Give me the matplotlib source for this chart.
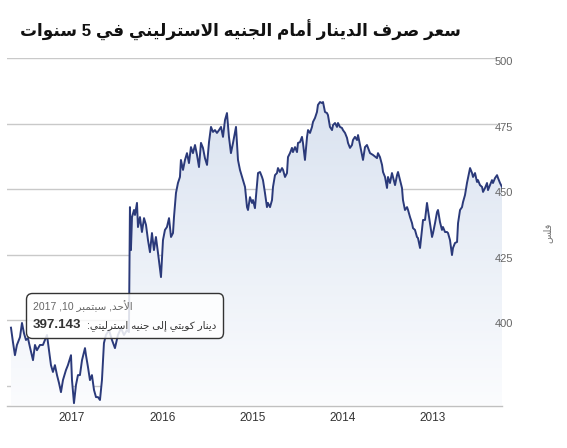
import re

import matplotlib
matplotlib.use("Agg")
import matplotlib.pyplot as plt
import numpy as np
from matplotlib.colors import LinearSegmentedColormap
from matplotlib.offsetbox import AnnotationBbox, HPacker, TextArea, VPacker
from matplotlib.transforms import ScaledTranslation

plt.rcParams["font.family"] = ["Liberation Sans", "DejaVu Sans"]

# KWD -> GBP (fils), newest on the left
years = [
    2017.676, 2017.654, 2017.632, 2017.610, 2017.576, 2017.554, 2017.532, 2017.510, 2017.488, 2017.466,
    2017.432, 2017.410, 2017.388, 2017.355, 2017.322, 2017.277, 2017.255, 2017.233, 2017.211, 2017.189,
    2017.166, 2017.144, 2017.122, 2017.100, 2017.067, 2017.045, 2017.011, 2017.000, 2016.978, 2016.956,
    2016.934, 2016.912, 2016.889, 2016.856, 2016.845, 2016.823, 2016.801, 2016.779, 2016.756, 2016.734,
    2016.712, 2016.690, 2016.668, 2016.646, 2016.624, 2016.590, 2016.557, 2016.524, 2016.491, 2016.457,
    2016.424, 2016.391, 2016.369, 2016.358, 2016.347, 2016.335, 2016.313, 2016.302, 2016.280, 2016.269,
    2016.247, 2016.225, 2016.202, 2016.180, 2016.158, 2016.136, 2016.114, 2016.092, 2016.070, 2016.047,
    2016.014, 2015.992, 2015.970, 2015.948, 2015.925, 2015.903, 2015.881, 2015.870, 2015.848, 2015.826,
    2015.804, 2015.793, 2015.770, 2015.748, 2015.726, 2015.704, 2015.682, 2015.660, 2015.637, 2015.615,
    2015.593, 2015.571, 2015.549, 2015.527, 2015.504, 2015.482, 2015.460, 2015.438, 2015.416, 2015.394,
    2015.371, 2015.349, 2015.327, 2015.305, 2015.283, 2015.261, 2015.239, 2015.216, 2015.183, 2015.161,
    2015.139, 2015.106, 2015.083, 2015.061, 2015.050, 2015.028, 2015.006, 2014.995, 2014.973, 2014.939,
    2014.917, 2014.895, 2014.884, 2014.862, 2014.840, 2014.829, 2014.806, 2014.784, 2014.773, 2014.751,
    2014.729, 2014.718, 2014.696, 2014.673, 2014.662, 2014.640, 2014.618, 2014.607, 2014.585, 2014.563,
    2014.552, 2014.529, 2014.507, 2014.496, 2014.474, 2014.452, 2014.441, 2014.419, 2014.396, 2014.385,
    2014.363, 2014.341, 2014.330, 2014.308, 2014.286, 2014.275, 2014.252, 2014.230, 2014.219, 2014.197,
    2014.175, 2014.164, 2014.142, 2014.119, 2014.108, 2014.086, 2014.064, 2014.053, 2014.031, 2014.009,
    2013.998, 2013.975, 2013.953, 2013.942, 2013.920, 2013.898, 2013.887, 2013.865, 2013.842, 2013.831,
    2013.809, 2013.776, 2013.754, 2013.732, 2013.698, 2013.665, 2013.621, 2013.610, 2013.588, 2013.565,
    2013.554, 2013.532, 2013.510, 2013.499, 2013.477, 2013.455, 2013.444, 2013.421, 2013.399, 2013.388,
    2013.366, 2013.344, 2013.333, 2013.311, 2013.288, 2013.277, 2013.255, 2013.233, 2013.222, 2013.200,
    2013.178, 2013.167, 2013.144, 2013.122, 2013.111, 2013.089, 2013.067, 2013.056, 2013.034, 2013.011,
    2013.000, 2012.978, 2012.956, 2012.945, 2012.923, 2012.901, 2012.890, 2012.867, 2012.845, 2012.834,
    2012.812, 2012.790, 2012.779, 2012.757, 2012.734, 2012.723, 2012.701, 2012.679, 2012.668, 2012.646,
    2012.624, 2012.613, 2012.590, 2012.568, 2012.557, 2012.535, 2012.513, 2012.502, 2012.480, 2012.457,
    2012.446, 2012.424, 2012.402, 2012.391, 2012.369, 2012.347, 2012.336, 2012.313, 2012.291, 2012.280,
    2012.258, 2012.236,
]
rates = [
    397.1, 391.6, 386.6, 390.5, 393.5, 398.9, 395.0, 392.4, 393.1, 389.7,
    384.7, 390.5, 388.5, 390.5, 390.5, 394.3, 388.5, 382.8, 380.2, 382.8,
    379.0, 376.0, 372.5, 377.1, 380.9, 382.8, 386.6, 377.1, 368.3, 375.2,
    379.0, 379.0, 384.7, 389.3, 386.6, 382.1, 377.1, 379.0, 373.3, 370.6,
    370.6, 369.5, 377.1, 391.2, 394.3, 396.2, 392.4, 389.3, 394.3, 396.9,
    394.3, 396.2, 395.4, 443.1, 426.7, 439.3, 442.0, 440.1, 444.7, 435.5,
    439.3, 433.6, 438.9, 436.3, 430.5, 425.9, 433.2, 426.7, 431.7, 425.6,
    416.4, 430.5, 434.4, 435.5, 438.9, 431.7, 433.2, 439.3, 448.5, 452.3,
    454.6, 461.1, 457.3, 461.1, 463.7, 459.9, 466.0, 463.7, 466.8, 463.0,
    458.4, 467.6, 465.7, 461.8, 459.2, 467.9, 473.7, 471.8, 472.5, 471.4,
    472.5, 473.7, 469.9, 476.3, 479.0, 469.9, 463.7, 467.6, 473.7, 461.1,
    457.3, 453.4, 450.8, 443.1, 442.0, 446.9, 444.7, 445.8, 442.7, 456.1,
    456.5, 454.6, 453.4, 448.5, 443.1, 444.7, 443.1, 445.8, 450.8, 455.3,
    456.1, 458.0, 456.5, 458.0, 457.3, 454.6, 456.1, 462.2, 463.7, 465.7,
    464.1, 466.0, 464.1, 467.6, 467.9, 469.9, 467.6, 461.1, 469.9, 472.5,
    471.4, 473.7, 475.6, 477.1, 479.4, 482.1, 483.2, 482.8, 483.2, 479.4,
    479.0, 478.2, 473.7, 472.5, 474.4, 475.2, 473.7, 475.2, 473.7, 473.3,
    472.5, 471.4, 469.5, 467.6, 465.7, 466.8, 468.7, 469.9, 468.7, 470.6,
    466.8, 461.1, 466.0, 466.8, 463.7, 463.0, 461.8, 463.7, 462.2, 459.2,
    456.5, 454.6, 450.4, 454.6, 452.3, 456.1, 454.6, 451.5, 455.3, 456.5,
    453.4, 450.4, 445.8, 442.0, 443.1, 442.0, 439.3, 437.0, 435.1, 434.4,
    431.7, 431.3, 427.5, 434.4, 438.2, 438.2, 444.7, 442.0, 437.0, 431.7,
    433.2, 437.0, 441.2, 442.0, 437.4, 434.4, 435.5, 433.6, 433.6, 433.2,
    430.5, 424.8, 427.5, 429.4, 429.8, 437.0, 442.0, 443.1, 445.0, 447.7,
    452.3, 454.2, 458.0, 456.1, 454.6, 456.1, 452.7, 453.4, 451.5, 450.8,
    448.9, 450.4, 452.3, 449.6, 451.5, 453.4, 452.3, 454.2, 455.3, 454.2,
    452.3, 450.8,
]
year_ticks = [2017, 2016, 2015, 2014, 2013]
rate_ticks = [400, 425, 450, 475, 500]
grid_levels = [375, 400, 425, 450, 475, 500]

title = "سعر صرف الدينار أمام الجنيه الاسترليني في 5 سنوات"
unit = "فلس"
tip_date = "الأحد, سبتمبر 10, 2017"
tip_label = "دينار كويتي إلى جنيه استرليني:"
tip_value = "397.143"

# minimal arabic shaping (presentation forms) + right-to-left order
AR = {"ء": (0xFE80, 1), "آ": (0xFE81, 2), "أ": (0xFE83, 2), "ؤ": (0xFE85, 2), "إ": (0xFE87, 2),
      "ئ": (0xFE89, 4), "ا": (0xFE8D, 2), "ب": (0xFE8F, 4), "ة": (0xFE93, 2), "ت": (0xFE95, 4),
      "ث": (0xFE99, 4), "ج": (0xFE9D, 4), "ح": (0xFEA1, 4), "خ": (0xFEA5, 4), "د": (0xFEA9, 2),
      "ذ": (0xFEAB, 2), "ر": (0xFEAD, 2), "ز": (0xFEAF, 2), "س": (0xFEB1, 4), "ش": (0xFEB5, 4),
      "ص": (0xFEB9, 4), "ض": (0xFEBD, 4), "ط": (0xFEC1, 4), "ظ": (0xFEC5, 4), "ع": (0xFEC9, 4),
      "غ": (0xFECD, 4), "ف": (0xFED1, 4), "ق": (0xFED5, 4), "ك": (0xFED9, 4), "ل": (0xFEDD, 4),
      "م": (0xFEE1, 4), "ن": (0xFEE5, 4), "ه": (0xFEE9, 4), "و": (0xFEED, 2), "ى": (0xFEEF, 2),
      "ي": (0xFEF1, 4)}
LAM_ALEF = {"آ": 0xFEF5, "أ": 0xFEF7, "إ": 0xFEF9, "ا": 0xFEFB}


def rtl(text):
    units = []
    i = 0
    while i < len(text):
        c = text[i]
        if c == "ل" and i + 1 < len(text) and text[i + 1] in LAM_ALEF:
            units.append((LAM_ALEF[text[i + 1]], 2))
            i += 2
        elif c in AR:
            units.append(AR[c])
            i += 1
        else:
            units.append(c)
            i += 1
    out = []
    for k, u in enumerate(units):
        if isinstance(u, str):
            out.append(u)
            continue
        base, n = u
        prev = k > 0 and not isinstance(units[k - 1], str) and units[k - 1][1] == 4
        nxt = n == 4 and k + 1 < len(units) and not isinstance(units[k + 1], str) and units[k + 1][1] >= 2
        if n == 1:
            form = 0
        elif prev and nxt:
            form = 3
        elif prev:
            form = 1
        elif nxt:
            form = 2
        else:
            form = 0
        out.append(chr(base + form))
    s = "".join(out)[::-1]
    return re.sub(r"[0-9.]+", lambda m: m.group(0)[::-1], s)


fig = plt.figure(figsize=(5.67, 4.48), dpi=100)
ax = fig.add_axes([7 / 567, 1 - 405.5 / 448, 495 / 567, 347.5 / 448])

x = np.array(years)
y = np.array(rates)
ymin = 367.4

for lv in grid_levels:
    ax.axhline(lv, xmax=0.987, color="#c9c9c9", lw=1, zorder=0)

poly = ax.fill_between(x, y, ymin, color="none", lw=0)
cmap = LinearSegmentedColormap.from_list("fade", ["#fbfcfe", "#d5dfee"])
grad = np.linspace(0, 1, 256).reshape(-1, 1)
im = ax.imshow(grad, extent=[x.min(), x.max(), ymin, 500], aspect="auto",
               cmap=cmap, origin="lower", zorder=1)
im.set_clip_path(poly.get_paths()[0], ax.transData)

ax.plot(x, y, color="#2b3a7a", lw=1.4, zorder=3)

ax.set_xlim(2017.72, 2012.236)
ax.set_ylim(ymin, 500)

ax.set_xticks(year_ticks)
ax.set_xticklabels([str(v) for v in year_ticks])
ax.tick_params(axis="x", length=0, pad=5, labelsize=8.5, labelcolor="#333333")

ax.yaxis.tick_right()
ax.set_yticks(rate_ticks)
ax.set_yticklabels([str(v) for v in rate_ticks])
ax.tick_params(axis="y", length=0, pad=-5, labelsize=8, labelcolor="#666666")
for lab in ax.get_yticklabels():
    lab.set_horizontalalignment("left")
    lab.set_transform(lab.get_transform() + ScaledTranslation(0, -0.03, fig.dpi_scale_trans))

for side in ["top", "left", "right"]:
    ax.spines[side].set_visible(False)
ax.spines["bottom"].set_color("#c0c0c0")
ax.spines["bottom"].set_linewidth(1)

fig.text(240 / 567, 1 - 30 / 448, rtl(title), ha="center", va="center",
         fontsize=12.2, fontweight="bold", color="#111111")
fig.text(547 / 567, 1 - 233 / 448, rtl(unit), ha="center", va="center",
         rotation=90, fontsize=7, color="#777777")

# tooltip
t1 = TextArea(rtl(tip_date), textprops=dict(color="#666666", fontsize=7.5))
tnum = TextArea(tip_value, textprops=dict(color="#333333", fontsize=9.5, fontweight="bold"))
tlab = TextArea(rtl(tip_label), textprops=dict(color="#333333", fontsize=7.5))
row = HPacker(children=[tnum, tlab], align="baseline", pad=0, sep=4)
box = VPacker(children=[t1, row], align="left", pad=0, sep=5)
ab = AnnotationBbox(box, (33, 448 - 300), xycoords="figure pixels", box_alignment=(0, 1),
                    frameon=True, pad=0.5, zorder=5,
                    bboxprops=dict(boxstyle="round,pad=0.5,rounding_size=0.4",
                                   fc=(1, 1, 1, 0.85), ec="#333333", lw=1))
ax.add_artist(ab)

fig.savefig("out.png", dpi=100)
